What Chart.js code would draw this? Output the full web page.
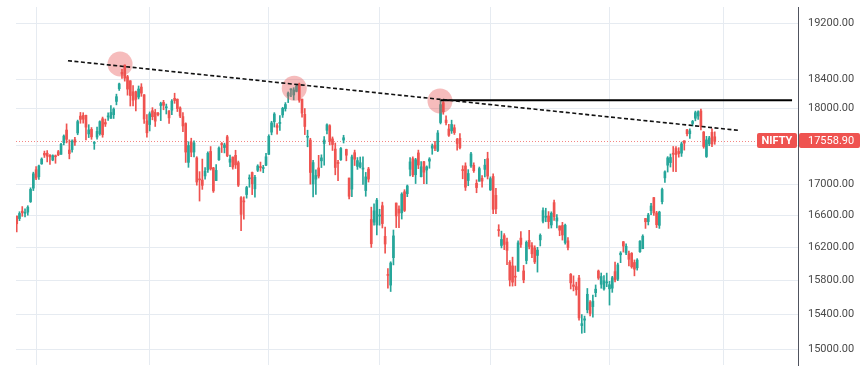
<!DOCTYPE html>
<html>
<head>
<meta charset="utf-8">
<title>NIFTY daily</title>
<script src="https://cdn.jsdelivr.net/npm/chart.js"></script>
<style>
  html, body { margin: 0; padding: 0; background: #ffffff; }
  #wrap { width: 867px; height: 370px; }
</style>
</head>
<body>
<div id="wrap"><canvas id="niftyChart" width="867" height="370"></canvas></div>
<script>
// ----------- NIFTY daily candles, 23 Aug 2021 -> 26 Aug 2022 (one entry per trading day) --------- //
// Aug21 | Sep | Oct | Nov | Dec | Jan22 | Feb | Mar | Apr | May | Jun | Jul | Aug22
const opens = [
  16592,16561,16654,16627,16642,16775,16947,
  17185,17095,17262,17400,17401,17375,17312,17363,17420,17387,17541,17709,17443,17449,17580,17670,17897,17906,17907,17657,17718,
  17531,17615,17661,17861,17810,17886,17867,17916,18097,18272,18500,18602,18439,18382,18230,18230,18157,18295,18188,17833,
  17783,17970,17947,17935,18041,18084,18010,17967,17977,18140,18127,18008,17890,17796,17281,17550,17417,17339,17055,17051,
  17104,17183,17425,17209,17044,17315,17524,17476,17619,17283,17351,17373,17277,16825,16773,16865,17067,17149,16938,17178,17220,17201,17244,
  17387,17681,17821,17768,17797,17913,17998,18170,18257,18185,18235,18337,18129,17921,17613,17575,17001,17062,17208,17301,
  17529,17706,17767,17591,17456,17280,17316,17575,17451,17077,16934,17408,17228,17219,17193,16916,17195,16549,16516,16481,
  16593,16723,16339,15867,15747,16078,16757,16680,16633,16900,16876,17191,17329,17120,17405,17094,17289,17181,17297,17468,17508,
  17437,17810,18080,17843,17723,17698,17740,17584,17599,17183,17234,17045,17234,17242,17009,17036,17073,17189,17329,
  16925,17097,16855,16415,16227,16348,16270,16021,15978,15845,15913,16318,15917,16043,16290,16225,16196,16105,16296,16527,16578,
  16594,16481,16762,16530,16469,16474,16263,16284,15877,15749,15729,15832,15272,15335,15455,15545,15493,15657,15916,15757,15702,15774,
  15703,15710,15909,15818,16113,16273,16136,16126,16130,16019,15955,16151,16187,16562,16523,16661,16826,16632,16476,16774,17079,
  17244,17278,17401,17463,17424,17402,17566,17712,17659,17797,17868,17898,17967,17682,17357,17525,17679,17619,
];
const highs = [
  16592,16647,16712,16683,16723,16951,17153,
  17225,17245,17340,17429,17436,17383,17380,17378,17438,17532,17644,17792,17578,17578,17610,17843,17947,17943,17912,17781,17743,
  17557,17750,17833,17884,17857,17941,18041,18009,18197,18350,18543,18604,18458,18384,18314,18241,18310,18342,18190,17916,
  17954,18012,17988,17947,18087,18112,18061,17971,18123,18210,18132,18023,17945,17806,17553,17600,17564,17355,17160,17324,
  17213,17420,17489,17216,17251,17484,17543,17534,17639,17376,17351,17440,17298,16840,16837,16971,17118,17155,17112,17250,17285,17242,17400,
  17646,17827,17944,17797,17905,18017,18081,18227,18272,18286,18321,18350,18129,18000,17707,17599,17309,17182,17373,17380,
  17622,17794,17781,17617,17536,17306,17477,17639,17455,17077,17375,17442,17344,17351,17352,17150,17216,16705,16748,16816,
  16678,16768,16456,15944,16028,16418,16757,16720,16888,16927,16987,17344,17353,17334,17442,17292,17294,17235,17343,17523,17560,
  17703,18114,18095,17901,17787,17842,17779,17597,17663,17237,17275,17186,17414,17275,17054,17220,17110,17322,17414,
  17092,17132,16945,16484,16404,16373,16318,16042,16084,15977,16284,16399,15984,16283,16414,16262,16223,16204,16370,16695,16691,
  16649,16646,16793,16610,16469,16514,16492,16324,15886,15858,15783,15863,15400,15382,15707,15565,15628,15749,15928,15892,15861,15891,
  15793,15852,16025,16011,16151,16276,16248,16158,16140,16050,16066,16287,16359,16563,16627,16752,16828,16652,16653,16947,17172,
  17356,17391,17490,17490,17474,17548,17566,17719,17724,17839,17965,17969,17992,17690,17625,17625,17727,17685,
];
const lows = [
  16395,16535,16589,16580,16603,16764,16916,
  17055,17059,17255,17345,17287,17254,17302,17269,17368,17386,17511,17537,17327,17416,17503,17646,17800,17802,17576,17608,17585,
  17452,17588,17640,17613,17757,17840,17864,17865,18050,18248,18414,18377,18183,18034,18034,17968,18131,18167,17799,17613,
  17697,17847,17757,17900,17836,17983,17926,17798,17915,18071,17959,17877,17688,17280,17216,17355,17351,16985,16782,16931,
  17064,17149,17180,16892,17044,17308,17410,17405,17355,17225,17192,17201,16967,16410,16554,16819,16958,16864,16833,17161,17166,17146,17238,
  17383,17645,17749,17655,17704,17879,17965,18081,18163,18119,18228,18085,17884,17648,17486,16998,16836,16866,17077,17213,
  17244,17658,17511,17437,17119,17044,17306,17536,17301,16809,16839,17240,17189,17207,16996,16843,17025,16203,16478,16357,
  16478,16443,16133,15711,15671,15990,16448,16447,16555,16649,16838,17104,17096,17006,17199,17091,17003,17003,17204,17387,17435,
  17422,17791,17922,17779,17623,17664,17650,17442,17457,17067,16917,16978,17215,17150,16888,17036,16958,17091,17065,
  16917,16623,16623,16340,16197,16176,15993,15736,15735,15739,15913,16202,15775,16003,16185,16078,16006,15903,16221,16506,16521,
  16438,16443,16538,16444,16347,16293,16243,16172,15701,15678,15627,15335,15183,15191,15419,15385,15368,15609,15815,15710,15688,15728,
  15511,15661,15785,15800,16017,16146,16115,15977,15950,15858,15927,16142,16187,16438,16481,16610,16601,16448,16438,16747,17019,
  17155,17220,17162,17161,17349,17359,17442,17631,17597,17764,17833,17852,17710,17467,17345,17500,17487,17519,
];
const closes = [
  16496,16625,16634,16636,16705,16931,17132,
  17076,17234,17324,17377,17362,17353,17369,17355,17380,17519,17629,17585,17396,17562,17546,17823,17853,17855,17748,17711,17618,
  17532,17691,17822,17646,17790,17895,17946,17992,18162,18339,18477,18419,18267,18178,18114,18125,18268,18211,17857,17672,
  17929,17889,17829,17916,18068,18044,18017,17873,18102,18109,17999,17898,17764,17416,17503,17415,17536,17026,17053,16983,
  17167,17401,17196,16912,17176,17469,17516,17511,17368,17325,17221,17248,16985,16614,16771,16955,17072,17003,17086,17233,17213,17204,17354,
  17625,17805,17925,17745,17812,18003,18055,18212,18258,18255,18308,18113,17938,17757,17617,17149,17278,17110,17102,17340,
  17576,17780,17560,17516,17214,17266,17464,17606,17375,16843,17352,17323,17304,17276,17207,17092,17063,16248,16658,16794,
  16606,16498,16245,15863,16013,16345,16594,16630,16871,16663,16975,17287,17117,17316,17246,17223,17153,17222,17325,17498,17465,
  17670,18053,17957,17807,17639,17784,17675,17530,17476,17174,16959,17136,17392,17172,16954,17200,17038,17245,17102,
  17069,16677,16683,16411,16301,16240,16167,15808,15782,15842,16259,16240,15809,16266,16214,16125,16026,16170,16352,16661,16585,
  16523,16628,16584,16570,16416,16356,16478,16202,15774,15732,15692,15361,15294,15350,15638,15413,15557,15699,15832,15850,15799,15780,
  15752,15835,15810,15990,16133,16220,16216,16058,15967,15938,16049,16279,16341,16521,16606,16719,16632,16484,16642,16930,17158,
  17340,17345,17388,17382,17397,17525,17535,17659,17698,17825,17944,17956,17758,17490,17577,17604,17522,17558.9,
];

// price ticks on the right axis (log scale)
const priceTicks = [15000, 15400, 15800, 16200, 16600, 17000, 17500, 18000, 18400, 19200];
// first trading day of every second month (bar index) -> vertical grid
const monthStarts = [7, 48, 91, 131, 171, 214, 255];

// drawings: pivot highs that were circled, falling trend line, flat resistance
const pivotIdx = [37.3, 100.2, 152.8];
const pivotPrice = [18617, 18278, 18103];
const trendIdx = [18.5, 261.1];
const trendPrice = [18664, 17703];
const resistIdx = [153, 279.9];
const resistPrice = 18114;

const symbol = "NIFTY";
const upColor = "#26a69a";
const downColor = "#ef5350";

// ----------- building datasets --------- //
const candleColors = closes.map((c, i) => (c >= opens[i] ? upColor : downColor));
const wickData = closes.map((c, i) => ({ x: i, y: [lows[i], highs[i]] }));
const bodyData = closes.map((c, i) => ({ x: i, y: [opens[i], c] }));
const pivotData = pivotIdx.map((x, i) => ({ x: x, y: pivotPrice[i] }));
const trendData = trendIdx.map((x, i) => ({ x: x, y: trendPrice[i] }));
const resistData = resistIdx.map((x) => ({ x: x, y: resistPrice }));

const lastIdx = closes.length - 1;
const lastClose = closes[lastIdx];
const lastColor = candleColors[lastIdx];

// dotted last price line + the red price tag on the axis
const lastPricePlugin = {
  id: "lastPrice",
  beforeDatasetsDraw(chart) {
    const { ctx, chartArea, scales } = chart;
    const y = Math.round(scales.y.getPixelForValue(lastClose)) + 0.5;
    ctx.save();
    ctx.strokeStyle = "rgba(239,83,80,0.7)";
    ctx.lineWidth = 1;
    ctx.setLineDash([1, 2]);
    ctx.beginPath();
    ctx.moveTo(chartArea.left, y);
    ctx.lineTo(chartArea.right, y);
    ctx.stroke();
    ctx.restore();
  },
  afterDraw(chart) {
    const { ctx, chartArea, scales } = chart;
    const y = Math.round(scales.y.getPixelForValue(lastClose));
    const right = chartArea.right;
    ctx.save();
    ctx.fillStyle = lastColor;
    ctx.beginPath();
    ctx.roundRect(right - 41, y - 8, 40, 15, 2);
    ctx.fill();
    ctx.beginPath();
    ctx.roundRect(right + 1, y - 8, 61, 15, 2);
    ctx.fill();
    ctx.fillStyle = "#ffffff";
    ctx.textBaseline = "middle";
    ctx.font = "bold 11px Roboto";
    ctx.textAlign = "center";
    ctx.fillText(symbol, right - 21, y);
    ctx.font = "11px Roboto";
    ctx.textAlign = "left";
    ctx.fillText(lastClose.toFixed(2), right + 10, y);
    ctx.restore();
  },
};

Chart.defaults.font.family = "Roboto";

new Chart(document.getElementById("niftyChart"), {
  type: "bar",
  data: {
    datasets: [
      {
        type: "line",
        data: trendData,
        borderColor: "#111111",
        borderWidth: 1.6,
        borderDash: [4, 2.5],
        pointRadius: 0,
        order: 1,
      },
      {
        type: "line",
        data: resistData,
        borderColor: "#000000",
        borderWidth: 2,
        pointRadius: 0,
        order: 2,
      },
      {
        type: "scatter",
        data: pivotData,
        pointRadius: 12.5,
        pointBackgroundColor: "rgba(232,80,80,0.38)",
        pointBorderWidth: 0,
        order: 3,
      },
      {
        data: bodyData,
        backgroundColor: candleColors,
        borderWidth: 0,
        barThickness: 2,
        minBarLength: 1,
        grouped: false,
        order: 4,
      },
      {
        data: wickData,
        backgroundColor: candleColors,
        borderWidth: 0,
        barThickness: 1,
        grouped: false,
        order: 5,
      },
    ],
  },
  options: {
    responsive: false,
    animation: false,
    events: [],
    layout: { autoPadding: false, padding: { left: 16, top: 7, bottom: 5, right: 0 } },
    plugins: { legend: { display: false }, tooltip: { enabled: false } },
    scales: {
      x: {
        type: "linear",
        min: -0.26,
        max: 282.05,
        offset: false,
        afterBuildTicks: (scale) => {
          scale.ticks = monthStarts.map((v) => ({ value: v }));
        },
        afterFit: (scale) => {
          scale.height = 0;
          scale.paddingLeft = 0;
          scale.paddingRight = 0;
        },
        ticks: { display: false },
        grid: { color: "#e6ebf1", drawTicks: false, offset: false },
        border: { display: false },
      },
      y: {
        type: "logarithmic",
        position: "right",
        min: 14822.7,
        max: 19438.4,
        bounds: "data",
        afterBuildTicks: (scale) => {
          scale.ticks = priceTicks.map((v) => ({ value: v }));
        },
        afterFit: (scale) => {
          scale.width = 69;
          scale.paddingTop = 0;
          scale.paddingBottom = 0;
        },
        ticks: {
          padding: 10,
          color: "#4a4a4a",
          font: { size: 11 },
          callback: (v) => Number(v).toFixed(2),
        },
        grid: { color: "#e6ebf1", drawTicks: false },
        border: { display: true, color: "#50535e", width: 1 },
      },
    },
  },
  plugins: [lastPricePlugin],
});
</script>
</body>
</html>
